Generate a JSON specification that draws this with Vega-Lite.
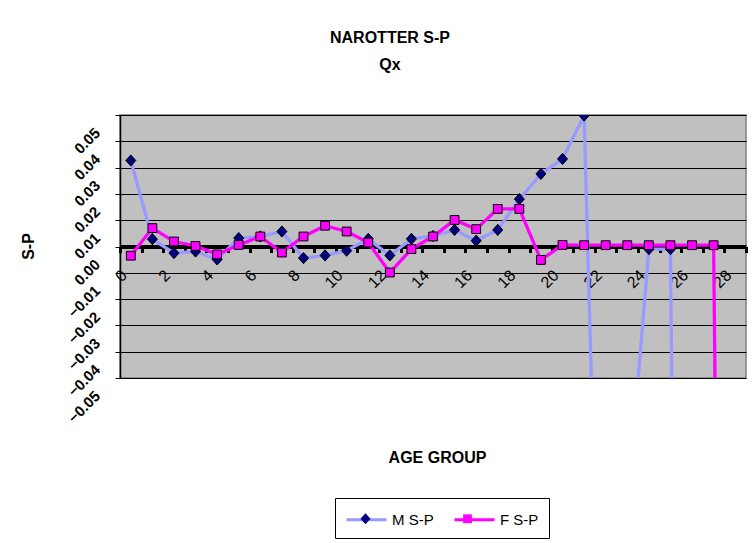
{
  "$schema": "https://vega.github.io/schema/vega-lite/v6.json",
  "autosize": {"type": "none"},
  "width": 626,
  "height": 263,
  "padding": {"left": 120, "top": 115, "right": 6, "bottom": 165},
  "background": "white",
  "config": {
    "font": "Liberation Sans",
    "view": {"fill": "#C0C0C0", "stroke": "#808080", "strokeWidth": 1.5}
  },
  "title": {
    "text": ["NAROTTER S-P", "Qx"],
    "fontSize": 16,
    "fontWeight": "bold",
    "color": "black",
    "anchor": "middle",
    "frame": "group",
    "dx": -43,
    "lineHeight": 27,
    "baseline": "bottom",
    "offset": 26
  },
  "data": {
    "values": [
      {"age": 0, "series": "M S-P", "value": 0.0327},
      {"age": 1, "series": "M S-P", "value": 0.0028},
      {"age": 2, "series": "M S-P", "value": -0.0025},
      {"age": 3, "series": "M S-P", "value": -0.0019},
      {"age": 4, "series": "M S-P", "value": -0.0049},
      {"age": 5, "series": "M S-P", "value": 0.0032},
      {"age": 6, "series": "M S-P", "value": 0.0038},
      {"age": 7, "series": "M S-P", "value": 0.0057},
      {"age": 8, "series": "M S-P", "value": -0.0044},
      {"age": 9, "series": "M S-P", "value": -0.0034},
      {"age": 10, "series": "M S-P", "value": -0.0016},
      {"age": 11, "series": "M S-P", "value": 0.0029},
      {"age": 12, "series": "M S-P", "value": -0.0034},
      {"age": 13, "series": "M S-P", "value": 0.0029},
      {"age": 14, "series": "M S-P", "value": 0.004},
      {"age": 15, "series": "M S-P", "value": 0.0063},
      {"age": 16, "series": "M S-P", "value": 0.0022},
      {"age": 17, "series": "M S-P", "value": 0.0063},
      {"age": 18, "series": "M S-P", "value": 0.018},
      {"age": 19, "series": "M S-P", "value": 0.0276},
      {"age": 20, "series": "M S-P", "value": 0.0333},
      {"age": 21, "series": "M S-P", "value": 0.0498},
      {"age": 22, "series": "M S-P", "value": -0.249},
      {"age": 23, "series": "M S-P", "value": -0.1},
      {"age": 24, "series": "M S-P", "value": -0.001},
      {"age": 25, "series": "M S-P", "value": -0.001},
      {"age": 26, "series": "M S-P", "value": -0.8},
      {"age": 0, "series": "F S-P", "value": -0.0035},
      {"age": 1, "series": "F S-P", "value": 0.007},
      {"age": 2, "series": "F S-P", "value": 0.0019},
      {"age": 3, "series": "F S-P", "value": 0.0002},
      {"age": 4, "series": "F S-P", "value": -0.003},
      {"age": 5, "series": "F S-P", "value": 0.0006},
      {"age": 6, "series": "F S-P", "value": 0.0038},
      {"age": 7, "series": "F S-P", "value": -0.0023},
      {"age": 8, "series": "F S-P", "value": 0.0038},
      {"age": 9, "series": "F S-P", "value": 0.0079},
      {"age": 10, "series": "F S-P", "value": 0.0057},
      {"age": 11, "series": "F S-P", "value": 0.0015},
      {"age": 12, "series": "F S-P", "value": -0.0099},
      {"age": 13, "series": "F S-P", "value": -0.001},
      {"age": 14, "series": "F S-P", "value": 0.0038},
      {"age": 15, "series": "F S-P", "value": 0.0101},
      {"age": 16, "series": "F S-P", "value": 0.0066},
      {"age": 17, "series": "F S-P", "value": 0.0143},
      {"age": 18, "series": "F S-P", "value": 0.0143},
      {"age": 19, "series": "F S-P", "value": -0.0051},
      {"age": 20, "series": "F S-P", "value": 0.0006},
      {"age": 21, "series": "F S-P", "value": 0.0005},
      {"age": 22, "series": "F S-P", "value": 0.0005},
      {"age": 23, "series": "F S-P", "value": 0.0005},
      {"age": 24, "series": "F S-P", "value": 0.0005},
      {"age": 25, "series": "F S-P", "value": 0.0005},
      {"age": 26, "series": "F S-P", "value": 0.0005},
      {"age": 27, "series": "F S-P", "value": 0.0005},
      {"age": 28, "series": "F S-P", "value": -0.8}
    ]
  },
  "encoding": {
    "x": {
      "field": "age",
      "type": "quantitative",
      "scale": {"domain": [-0.5, 28.5], "nice": false, "zero": false},
      "axis": {
        "title": "AGE GROUP",
        "values": [-0.5, 0.5, 1.5, 2.5, 3.5, 4.5, 5.5, 6.5, 7.5, 8.5, 9.5, 10.5, 11.5, 12.5, 13.5, 14.5, 15.5, 16.5, 17.5, 18.5, 19.5, 20.5, 21.5, 22.5, 23.5, 24.5, 25.5, 26.5, 27.5, 28.5],
        "labelExpr": "(datum.value + 0.5) % 2 === 0 ? format(datum.value + 0.5, 'd') : ''",
        "labelAngle": -45,
        "labelAlign": "right",
        "labelBaseline": "middle",
        "labelFontSize": 16,
        "labelColor": "black",
        "labelPadding": 20,
        "labelOffset": 4,
        "labelOverlap": false,
        "labelFlush": false,
        "offset": -131.5,
        "domainColor": "black",
        "domainWidth": 4,
        "tickColor": "black",
        "tickSize": 6,
        "tickWidth": 3,
        "grid": false,
        "titleFontSize": 16,
        "titleFontWeight": "bold",
        "titleColor": "black",
        "titleX": 317,
        "titleY": 211,
        "titleAlign": "center",
        "titleBaseline": "middle"
      }
    },
    "y": {
      "field": "value",
      "type": "quantitative",
      "scale": {"domain": [-0.05, 0.05], "nice": false, "zero": false},
      "axis": {
        "title": "S-P",
        "values": [0.05, 0.04, 0.03, 0.02, 0.01, 0, -0.01, -0.02, -0.03, -0.04, -0.05],
        "format": ".2f",
        "labelAngle": -45,
        "labelAlign": "right",
        "labelBaseline": "middle",
        "labelFontSize": 15,
        "labelFontWeight": "bold",
        "labelColor": "black",
        "labelOffset": 15,
        "labelPadding": 18,
        "labelOverlap": false,
        "labelFlush": false,
        "tickSize": 5,
        "tickColor": "black",
        "domainColor": "black",
        "domainWidth": 1.5,
        "gridColor": "black",
        "gridWidth": 1.2,
        "gridOpacity": 1,
        "titleFontSize": 16,
        "titleFontWeight": "bold",
        "titleColor": "black",
        "titleX": -92,
        "titleY": 131,
        "titleAngle": -90,
        "titleAlign": "center",
        "titleBaseline": "middle"
      }
    }
  },
  "layer": [
    {
      "mark": {"type": "line", "strokeWidth": 3.3, "clip": true},
      "encoding": {
        "color": {
          "field": "series",
          "type": "nominal",
          "scale": {"domain": ["M S-P", "F S-P"], "range": ["#9999FF", "#FF00FF"]},
          "legend": {
            "orient": "none",
            "legendX": 215,
            "legendY": 383,
            "direction": "horizontal",
            "title": null,
            "symbolType": "M-2,0H2",
            "symbolSize": 400,
            "symbolStrokeWidth": 3,
            "strokeColor": "black",
            "padding": 10,
            "labelFontSize": 15,
            "labelColor": "black",
            "symbolOffset": 10,
            "labelOffset": 14,
            "columnPadding": 14
          }
        }
      }
    },
    {
      "mark": {"type": "point", "filled": true, "stroke": "black", "strokeWidth": 1, "size": 400, "opacity": 1, "clip": true},
      "encoding": {
        "shape": {
          "field": "series",
          "type": "nominal",
          "sort": "descending",
          "scale": {"range": ["M0,-0.56L0.5,0L0,0.56L-0.5,0Z", "M-0.44,-0.44H0.44V0.44H-0.44Z"]},
          "legend": {
            "orient": "none",
            "legendX": 215,
            "legendY": 383,
            "direction": "horizontal",
            "title": null,
            "symbolSize": 400,
            "symbolStrokeColor": "black",
            "symbolStrokeWidth": 1,
            "padding": 10,
            "labelFontSize": 15,
            "labelExpr": "''",
            "symbolOffset": 10,
            "labelOffset": 14,
            "columnPadding": 57
          }
        },
        "fill": {
          "field": "series",
          "type": "nominal",
          "sort": "descending",
          "scale": {"range": ["#000080", "#FF00FF"]},
          "legend": {
            "orient": "none",
            "legendX": 215,
            "legendY": 383,
            "direction": "horizontal",
            "title": null,
            "symbolSize": 400,
            "symbolStrokeColor": "black",
            "symbolStrokeWidth": 1,
            "padding": 10,
            "labelFontSize": 15,
            "labelExpr": "''",
            "symbolOffset": 10,
            "labelOffset": 14,
            "columnPadding": 57
          }
        }
      }
    }
  ]
}
